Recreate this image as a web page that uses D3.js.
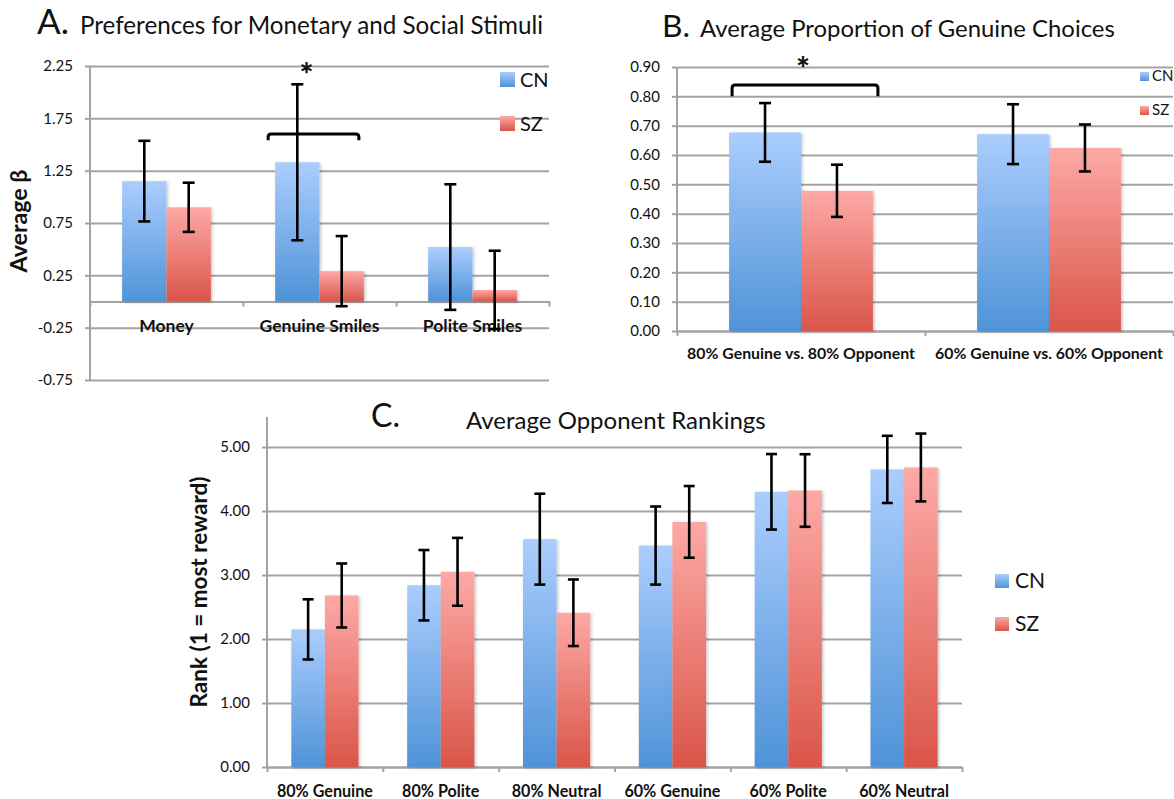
<!DOCTYPE html>
<html>
<head>
<meta charset="utf-8">
<script src="https://cdn.jsdelivr.net/npm/d3@7"></script>
<style>
  body { margin: 0; background: #fff; }
  svg { display: block; }
  text { font-family: Lato, "Open Sans", sans-serif; fill: #111; }
</style>
</head>
<body>
<svg></svg>
<script>
let series = ["CN", "SZ"];

// A. preferences
let catsA = ["Money", "Genuine Smiles", "Polite Smiles"];
let cnA = [1.15, 1.33, 0.52];
let szA = [0.90, 0.29, 0.11];
let cnErrA = [0.385, 0.745, 0.60];
let szErrA = [0.235, 0.335, 0.375];
let ticksA = [-0.75, -0.25, 0.25, 0.75, 1.25, 1.75, 2.25];

// B. genuine choices
let catsB = ["80% Genuine vs. 80% Opponent", "60% Genuine vs. 60% Opponent"];
let cnB = [0.677, 0.671];
let szB = [0.478, 0.624];
let cnErrB = [0.100, 0.102];
let szErrB = [0.089, 0.080];
let ticksB = [0, 0.1, 0.2, 0.3, 0.4, 0.5, 0.6, 0.7, 0.8, 0.9];

// C. opponent rankings
let catsC = ["80% Genuine", "80% Polite", "80% Neutral", "60% Genuine", "60% Polite", "60% Neutral"];
let cnC = [2.15, 2.84, 3.56, 3.46, 4.30, 4.65];
let szC = [2.68, 3.05, 2.41, 3.83, 4.32, 4.68];
let cnErrC = [0.47, 0.55, 0.71, 0.61, 0.59, 0.525];
let szErrC = [0.50, 0.53, 0.52, 0.56, 0.567, 0.53];
let ticksC = [0, 1, 2, 3, 4, 5];

let grid = "#a3a3a3";

var svg = d3.select("svg")
    .attr("width", 1174)
    .attr("height", 799);

let defs = svg.append("defs");
let grads = { CN: ["#abcdfd", "#4f93d8"], SZ: ["#fda9a6", "#da5549"] };
series.forEach(s => {
    let lg = defs.append("linearGradient").attr("id", "g" + s)
        .attr("x1", 0).attr("y1", 0).attr("x2", 0).attr("y2", 1);
    lg.append("stop").attr("offset", "0%").attr("stop-color", grads[s][0]);
    lg.append("stop").attr("offset", "100%").attr("stop-color", grads[s][1]);
});
defs.append("filter").attr("id", "shadow")
    .attr("x", "-20%").attr("y", "-20%").attr("width", "140%").attr("height", "140%")
    .append("feDropShadow")
    .attr("dx", 1.5).attr("dy", 1).attr("stdDeviation", 1.6)
    .attr("flood-color", "#000").attr("flood-opacity", 0.22);

// scale a text's font-size so it spans the given width
function fit(sel, width) {
    let w = sel.node().getComputedTextLength();
    sel.attr("font-size", parseFloat(sel.attr("font-size")) * width / w);
    return parseFloat(sel.attr("font-size"));
}

function panel(o) {
    let g = svg.append("g");
    let x = d3.scaleBand().domain(o.cats).range([o.x0, o.x1]).paddingInner(0.42).paddingOuter(0.21);
    let xs = d3.scaleBand().domain(series).range([0, x.bandwidth()]);
    let y = d3.scaleLinear().domain(o.domain).range([o.y0, o.y1]);
    let vals = { CN: o.cn, SZ: o.sz };
    let errs = { CN: o.cnErr, SZ: o.szErr };

    // gridlines
    g.append("g")
        .attr("transform", `translate(${o.x0},0)`)
        .call(d3.axisLeft(y).tickValues(o.ticks).tickSize(-(o.x1 - o.x0)).tickFormat(""))
        .call(a => a.select(".domain").remove())
        .selectAll("line").attr("stroke", grid).attr("stroke-width", 2);

    // y axis
    let ya = g.append("g")
        .attr("transform", `translate(${o.x0},0)`)
        .call(d3.axisLeft(y).tickValues(o.ticks).tickSize(5).tickSizeOuter(0).tickPadding(12)
            .tickFormat(d => d.toFixed(2)));
    ya.select(".domain").remove();
    ya.selectAll("line").attr("stroke", grid).attr("stroke-width", 2);
    ya.selectAll("text").attr("font-size", 15).attr("font-family", "Lato").attr("fill", "#222");
    g.append("line")
        .attr("x1", o.x0).attr("x2", o.x0)
        .attr("y1", o.axisTop || o.y1).attr("y2", o.y0)
        .attr("stroke", grid).attr("stroke-width", 2);

    // x axis with ticks at the category boundaries
    let xi = d3.scaleLinear().domain([0, o.cats.length]).range([o.x0, o.x1]);
    let xa = g.append("g")
        .attr("transform", `translate(0,${y(0)})`)
        .call(d3.axisBottom(xi).tickValues(d3.range(o.cats.length + 1)).tickSize(5).tickSizeOuter(0).tickFormat(""));
    xa.select(".domain").attr("stroke", grid).attr("stroke-width", 2);
    xa.selectAll("line").attr("stroke", grid).attr("stroke-width", 2);

    // category labels
    let labs = g.selectAll(".cat")
        .data(o.cats)
        .enter()
        .append("text")
        .attr("class", "cat")
        .text(d => d)
        .attr("x", d => x(d) + x.bandwidth() / 2)
        .attr("y", o.labelY)
        .attr("text-anchor", "middle")
        .attr("font-weight", "bold")
        .attr("font-size", 14);
    let fs = fit(labs.filter((d, i) => i === o.fitIdx), o.labelW);
    labs.attr("font-size", fs);

    // bars
    series.forEach(s => {
        g.selectAll(".bar" + s)
            .data(o.cats)
            .enter()
            .append("rect")
            .attr("x", d => x(d) + xs(s))
            .attr("y", (d, i) => y(Math.max(vals[s][i], 0)))
            .attr("width", xs.bandwidth())
            .attr("height", (d, i) => Math.abs(y(vals[s][i]) - y(0)))
            .attr("fill", `url(#g${s})`)
            .attr("filter", "url(#shadow)");
    });

    // error bars
    series.forEach(s => {
        o.cats.forEach((c, i) => {
            let cx = x(c) + xs(s) + xs.bandwidth() / 2;
            let hi = y(vals[s][i] + errs[s][i]);
            let lo = y(vals[s][i] - errs[s][i]);
            let eb = g.append("g").attr("stroke", "#000").attr("stroke-width", 2.6);
            eb.append("line").attr("x1", cx).attr("x2", cx).attr("y1", hi).attr("y2", lo);
            eb.append("line").attr("x1", cx - o.cap).attr("x2", cx + o.cap).attr("y1", hi).attr("y2", hi);
            eb.append("line").attr("x1", cx - o.cap).attr("x2", cx + o.cap).attr("y1", lo).attr("y2", lo);
        });
    });

    // significance bracket
    if (o.sig) {
        let c = o.cats[o.sig.idx];
        let bx0 = x(c) + o.sig.dx0, bx1 = x(c) + x.bandwidth() + o.sig.dx1;
        let by = y(o.sig.top), bl = y(o.sig.leg);
        g.append("path")
            .attr("d", `M${bx0},${bl} L${bx0},${by + 3} Q${bx0},${by} ${bx0 + 3},${by} L${bx1 - 3},${by} Q${bx1},${by} ${bx1},${by + 3} L${bx1},${bl}`)
            .attr("fill", "none").attr("stroke", "#000").attr("stroke-width", 3);
        g.append("text")
            .text("*")
            .attr("x", (bx0 + bx1) / 2 + o.sig.starDx)
            .attr("y", y(o.sig.star))
            .attr("text-anchor", "middle")
            .attr("font-weight", "900")
            .attr("font-size", 33);
    }

    // titles
    let lt = g.append("text").text(o.letter)
        .attr("x", o.letterX).attr("y", o.titleY).attr("font-size", 30);
    fit(lt, o.letterW);
    let tt = g.append("text").text(o.title)
        .attr("x", o.titleX).attr("y", o.titleY2 || o.titleY).attr("font-size", 20);
    fit(tt, o.titleW);

    if (o.yTitle) {
        let yt = g.append("text").text(o.yTitle)
            .attr("transform", `translate(${o.yTitleX},${o.yTitleY}) rotate(-90)`)
            .attr("text-anchor", "middle")
            .attr("font-weight", "bold")
            .attr("font-size", 18);
        fit(yt, o.yTitleW);
    }

    // legend
    series.forEach((s, i) => {
        let ly = o.legY + i * o.legGap;
        g.append("rect")
            .attr("x", o.legX).attr("y", ly)
            .attr("width", o.legSize).attr("height", o.legSize)
            .attr("fill", `url(#g${s})`);
        g.append("text").text(s)
            .attr("x", o.legX + o.legSize + o.legPad)
            .attr("y", ly + o.legSize)
            .attr("font-size", o.legFont);
    });
}

panel({
    cats: catsA, cn: cnA, sz: szA, cnErr: cnErrA, szErr: szErrA, ticks: ticksA,
    domain: [-0.75, 2.25], x0: 90, x1: 549, y0: 380, y1: 66,
    labelY: 332, fitIdx: 1, labelW: 120, cap: 6,
    sig: { idx: 1, dx0: -7, dx1: -5, top: 1.6, leg: 1.54, star: 2.06, starDx: -7 },
    letter: "A.", letterX: 37, letterW: 32, titleY: 34,
    title: "Preferences for Monetary and Social Stimuli", titleX: 80, titleW: 463,
    yTitle: "Average β", yTitleX: 27, yTitleY: 221, yTitleW: 103,
    legX: 500, legY: 72, legGap: 44, legSize: 15, legPad: 5, legFont: 20
});

panel({
    cats: catsB, cn: cnB, sz: szB, cnErr: cnErrB, szErr: szErrB, ticks: ticksB,
    domain: [0, 0.9], x0: 677, x1: 1173, y0: 331, y1: 67,
    labelY: 359, fitIdx: 0, labelW: 228, cap: 6,
    sig: { idx: 0, dx0: 3, dx1: 5, top: 0.839, leg: 0.80, star: 0.855, starDx: -2 },
    letter: "B.", letterX: 662, letterW: 28, titleY: 37,
    title: "Average Proportion of Genuine Choices", titleX: 700, titleW: 415,
    legX: 1140, legY: 72, legGap: 34, legSize: 9, legPad: 3, legFont: 15
});

panel({
    cats: catsC, cn: cnC, sz: szC, cnErr: cnErrC, szErr: szErrC, ticks: ticksC,
    domain: [0, 5], x0: 267, x1: 962, y0: 767, y1: 447, axisTop: 417,
    labelY: 797, fitIdx: 0, labelW: 96, cap: 5.5,
    letter: "C.", letterX: 371, letterW: 29, titleY: 427, titleY2: 429,
    title: "Average Opponent Rankings", titleX: 466, titleW: 300,
    yTitle: "Rank (1 = most reward)", yTitleX: 207, yTitleY: 592, yTitleW: 231,
    legX: 995, legY: 574, legGap: 43, legSize: 14, legPad: 6, legFont: 21
});
</script>
</body>
</html>
